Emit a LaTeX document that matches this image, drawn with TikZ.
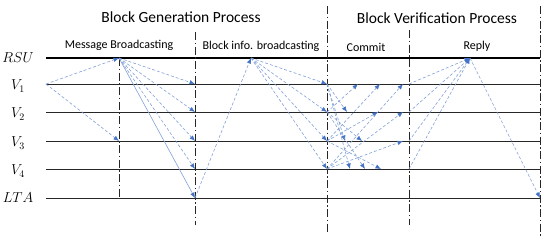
\documentclass[tikz,border=0pt]{standalone}
\usepackage{fontspec}
\setmainfont{Carlito}
\usetikzlibrary{arrows.meta}

\definecolor{msgline}{RGB}{130,160,215}
\definecolor{msgtip}{RGB}{68,114,196}

\tikzset{
    timeline/.style={draw=black!85, line width=0.8pt},
    phaseline/.style={draw=black!85, line width=1pt, dash pattern=on 8pt off 2.5pt on 1.5pt off 2.5pt},
    msg/.style={draw=msgline, line width=0.6pt, dash pattern=on 3pt off 2pt, -{Latex[length=5.5pt,width=4.5pt,color=msgtip]}},
    msgsolid/.style={msg, solid},
    phaselbl/.style={font=\fontsize{12}{14}\selectfont},
    titlelbl/.style={font=\fontsize{15.5}{18}\selectfont},
    entity/.style={font=\fontsize{14}{16}\selectfont}
}

\begin{document}
\begin{tikzpicture}[x=1pt, y=-1pt]
    \useasboundingbox (0,0) rectangle (550,244);

    % Titles
    \node[titlelbl] (genT) at (181,17) {Block Generation Process};
    \node[titlelbl] (verT) at (437,18) {Block Verification Process};
    \node[phaselbl] (mbT) at (119,45) {Message Broadcasting};
    \node[phaselbl] (biT) at (261,46) {Block info. broadcasting};
    \node[phaselbl] (cmT) at (366,47) {Commit};
    \node[phaselbl] (rpT) at (477,46) {Reply};

    % Entities and their time lines
    \node[entity] (rsu) at (18,58) {$RSU$};
    \node[entity] (v1) at (18,86) {$V_1$};
    \node[entity] (v2) at (18,114) {$V_2$};
    \node[entity] (v3) at (18,143) {$V_3$};
    \node[entity] (v4) at (18,171) {$V_4$};
    \node[entity] (lta) at (18,198) {$LTA$};

    \coordinate (rsuS) at (46,58);  \coordinate (rsuE) at (540,58);
    \coordinate (v1S) at (46,84);   \coordinate (v1E) at (540,84);
    \coordinate (v2S) at (46,112);  \coordinate (v2E) at (540,112);
    \coordinate (v3S) at (46,141);  \coordinate (v3E) at (540,141);
    \coordinate (v4S) at (46,169);  \coordinate (v4E) at (540,169);
    \coordinate (ltaS) at (46,198); \coordinate (ltaE) at (540,198);

    \draw[line width=2pt] (rsuS) -- (rsuE);
    \draw[timeline] (v1S) -- (v1E);
    \draw[timeline] (v2S) -- (v2E);
    \draw[timeline] (v3S) -- (v3E);
    \draw[timeline] (v4S) -- (v4E);
    \draw[timeline] (ltaS) -- (ltaE);

    % Phase borders
    \coordinate (p1T) at (119,58);  \coordinate (p1B) at (119,198);
    \coordinate (p2T) at (195,32);  \coordinate (p2B) at (195,225);
    \coordinate (p3T) at (327,6);   \coordinate (p3B) at (327,232);
    \coordinate (p4T) at (409,30);  \coordinate (p4B) at (409,225);
    \coordinate (p5T) at (540,6);   \coordinate (p5B) at (540,237);
    \draw[phaseline] (p1T) -- (p1B);
    \draw[phaseline] (p2T) -- (p2B);
    \draw[phaseline] (p3T) -- (p3B);
    \draw[phaseline] (p4T) -- (p4B);
    \draw[phaseline] (p5T) -- (p5B);

    % Message broadcasting
    \coordinate (mbRsu) at (119,58);
    \coordinate (mbV3) at (119,141);
    \draw[msg] (v1S) -- (mbRsu);
    \draw[msg] (v1S) -- (mbV3);
    \coordinate (a1) at (195,84);
    \coordinate (a2) at (195,112);
    \coordinate (a3) at (195,141);
    \coordinate (a4) at (195,169);
    \coordinate (aL) at (195,198);
    \draw[msg] (mbRsu) -- (a1);
    \draw[msg] (mbRsu) -- (a2);
    \draw[msg] (mbRsu) -- (a3);
    \draw[msg] (mbRsu) -- (a4);
    \draw[msgsolid] (mbRsu) -- (aL);

    % Block info. broadcasting
    \coordinate (biRsu) at (251,58);
    \draw[msg] (aL) -- (biRsu);
    \coordinate (c1) at (327,84);
    \coordinate (c2) at (327,112);
    \coordinate (c3) at (327,141);
    \coordinate (c4) at (327,169);
    \draw[msg] (biRsu) -- (c1);
    \draw[msg] (biRsu) -- (c2);
    \draw[msg] (biRsu) -- (c3);
    \draw[msg] (biRsu) -- (c4);

    % Commit
    \coordinate (c12) at (347,112); \coordinate (c13) at (345,141); \coordinate (c14) at (350,169);
    \coordinate (c21) at (358,84);  \coordinate (c23) at (362,141); \coordinate (c24) at (365,169);
    \coordinate (c31) at (380,84);  \coordinate (c32) at (378,112); \coordinate (c34) at (381,169);
    \coordinate (c41) at (403,84);  \coordinate (c42) at (403,112); \coordinate (c43) at (403,141);
    \draw[msg] (c1) -- (c12);
    \draw[msg] (c1) -- (c13);
    \draw[msg] (c1) -- (c14);
    \draw[msg] (c2) -- (c21);
    \draw[msg] (c2) -- (c23);
    \draw[msg] (c2) -- (c24);
    \draw[msg] (c3) -- (c31);
    \draw[msg] (c3) -- (c32);
    \draw[msg] (c3) -- (c34);
    \draw[msg] (c4) -- (c41);
    \draw[msg] (c4) -- (c42);
    \draw[msg] (c4) -- (c43);

    % Reply
    \coordinate (r1) at (409,84);
    \coordinate (r2) at (409,112);
    \coordinate (r3) at (409,141);
    \coordinate (r4) at (409,169);
    \coordinate (rpRsu) at (470,58);
    \coordinate (rpLta) at (540,198);
    \draw[msg] (r1) -- (rpRsu);
    \draw[msg] (r2) -- (rpRsu);
    \draw[msg] (r3) -- (rpRsu);
    \draw[msg] (r4) -- (rpRsu);
    \draw[msg] (rpRsu) -- (rpLta);
\end{tikzpicture}
\end{document}
